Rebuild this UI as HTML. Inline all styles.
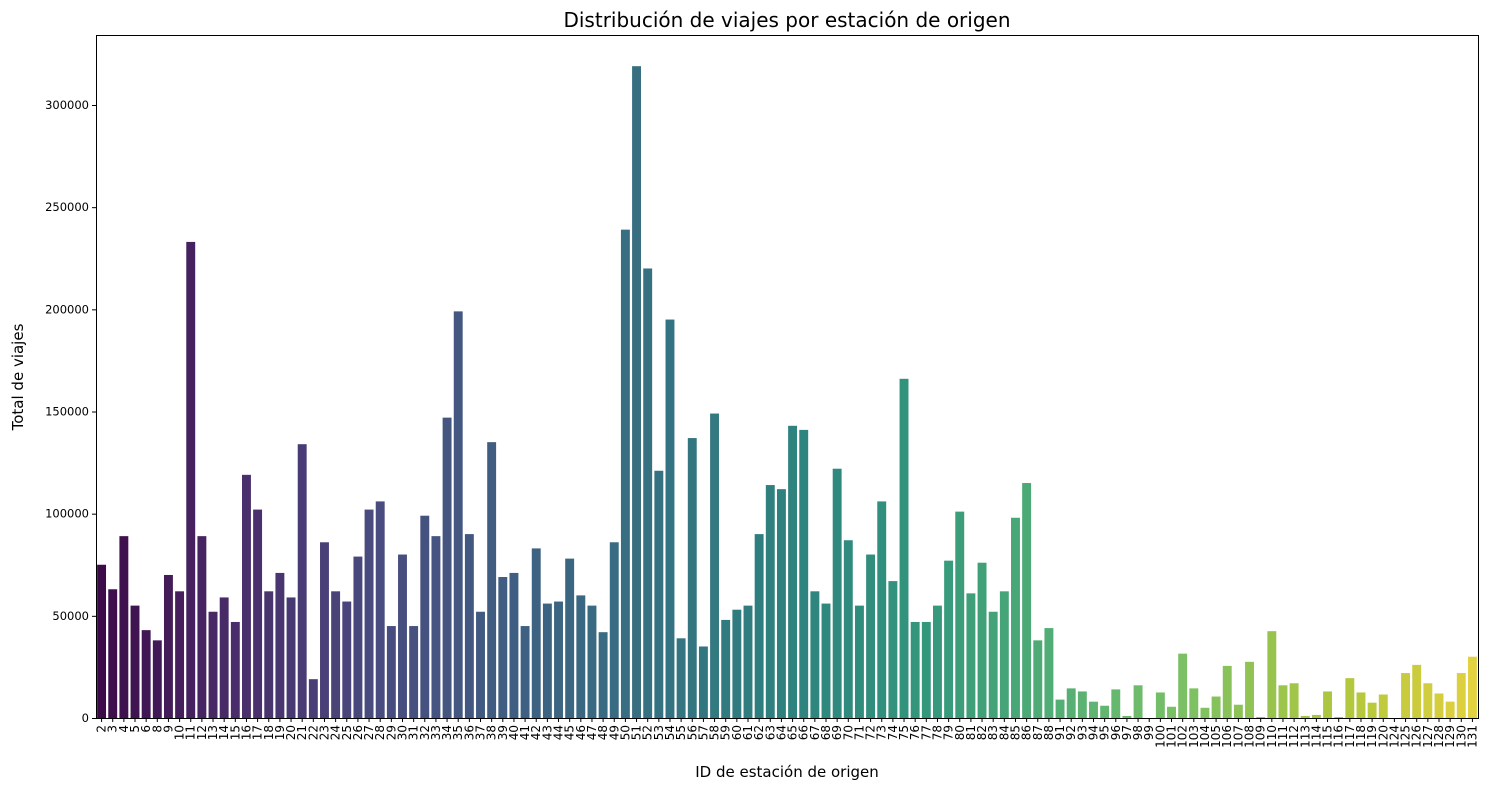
<!DOCTYPE html>
<html><head><meta charset="utf-8"><style>
body{margin:0;background:#fff;font-family:"Liberation Sans","DejaVu Sans",sans-serif;}
svg text{font-family:"DejaVu Sans","Liberation Sans",sans-serif;}
</style></head><body>
<svg id="chart" width="1489" height="789" xmlns="http://www.w3.org/2000/svg">
<text x="787" y="27" font-size="20" text-anchor="middle">Distribución de viajes por estación de origen</text>
<text x="787" y="777" font-size="15" text-anchor="middle">ID de estación de origen</text>
<text transform="translate(23,377) rotate(-90)" font-size="15" text-anchor="middle">Total de viajes</text>
<g id="bars"></g>
<g id="axes"></g>
<rect x="96.5" y="35.5" width="1382" height="683" fill="none" stroke="#000" stroke-width="1"/>
</svg>
<script>
const categories=[2,3,4,5,6,8,9,10,11,12,13,14,15,16,17,18,19,20,21,22,23,24,25,26,27,28,29,30,31,32,33,34,35,36,37,38,39,40,41,42,43,44,45,46,47,48,49,50,51,52,53,54,55,56,57,58,59,60,61,62,63,64,65,66,67,68,69,70,71,72,73,74,75,76,77,78,79,80,81,82,83,84,85,86,87,88,91,92,93,94,95,96,97,98,99,100,101,102,103,104,105,106,107,108,109,110,111,112,113,114,115,116,117,118,119,120,124,125,126,127,128,129,130,131];
const trips=[75000,63000,89000,55000,43000,38000,70000,62000,233000,89000,52000,59000,47000,119000,102000,62000,71000,59000,134000,19000,86000,62000,57000,79000,102000,106000,45000,80000,45000,99000,89000,147000,199000,90000,52000,135000,69000,71000,45000,83000,56000,57000,78000,60000,55000,42000,86000,239000,319000,220000,121000,195000,39000,137000,35000,149000,48000,53000,55000,90000,114000,112000,143000,141000,62000,56000,122000,87000,55000,80000,106000,67000,166000,47000,47000,55000,77000,101000,61000,76000,52000,62000,98000,115000,38000,44000,9000,14500,13000,8000,6000,14000,1000,16000,0,12500,5500,31500,14500,5000,10500,25500,6500,27500,500,42500,16000,17000,1000,1500,13000,500,19500,12500,7500,11500,0,22000,26000,17000,12000,8000,22000,30000];
const yTicks=[0,50000,100000,150000,200000,250000,300000];
const NS="http://www.w3.org/2000/svg";
const x0=96,x1=1478,yBase=718,yTop=105,vTop=300000;
const slot=(x1-x0)/categories.length;
const xc=i=>x0+slot*(i+0.5);
const y=v=>yBase-(v/vTop)*(yBase-yTop);
const vir=[[68,1,84],[72,35,116],[64,67,135],[52,94,141],[41,120,142],[32,144,140],[34,167,132],[68,190,112],[121,209,81],[189,222,38],[253,231,37]];
function desat(c,s){const [r,g,b]=c.map(v=>v/255);const mx=Math.max(r,g,b),mn=Math.min(r,g,b),l=(mx+mn)/2;const out=[r,g,b].map(v=>l+(v-l)*s);return out.map(v=>Math.round(Math.max(0,Math.min(1,v))*255));}
function col(t){const p=t*(vir.length-1),k=Math.min(Math.floor(p),vir.length-2),f=p-k;const c=vir[k].map((a,j)=>a+(vir[k+1][j]-a)*f);return `rgb(${desat(c,0.75)})`;}
const bars=document.getElementById('bars'),axes=document.getElementById('axes');
categories.forEach((c,i)=>{
 const r=document.createElementNS(NS,'rect');
 
 
 const w=slot*0.8;
 r.setAttribute('x',xc(i)-w/2);r.setAttribute('width',w);
 r.setAttribute('y',y(trips[i]));r.setAttribute('height',yBase-y(trips[i]));
 r.setAttribute('fill',col(i/(categories.length-1)));
 bars.appendChild(r);
 const tk=document.createElementNS(NS,'line');
 
 
 tk.setAttribute('x1',xc(i));tk.setAttribute('x2',xc(i));tk.setAttribute('y1',718.5);tk.setAttribute('y2',722);tk.setAttribute('stroke','#000');
 axes.appendChild(tk);
 const t=document.createElementNS(NS,'text');
 
 
 t.setAttribute('transform',`translate(${xc(i)+4},725) rotate(-90)`);
 t.setAttribute('font-size','12');t.setAttribute('text-anchor','end');
 t.textContent=c;axes.appendChild(t);
});
yTicks.forEach(v=>{
 const tk=document.createElementNS(NS,'line');
 
 
 tk.setAttribute('x1',92);tk.setAttribute('x2',96);tk.setAttribute('y1',y(v)+0.5);tk.setAttribute('y2',y(v)+0.5);tk.setAttribute('stroke','#000');
 axes.appendChild(tk);
 const t=document.createElementNS(NS,'text');
 
 
 t.setAttribute('x',89);t.setAttribute('y',y(v)+4);t.setAttribute('font-size','11.5');t.setAttribute('text-anchor','end');
 t.textContent=v;axes.appendChild(t);
});
</script>
</body></html>
